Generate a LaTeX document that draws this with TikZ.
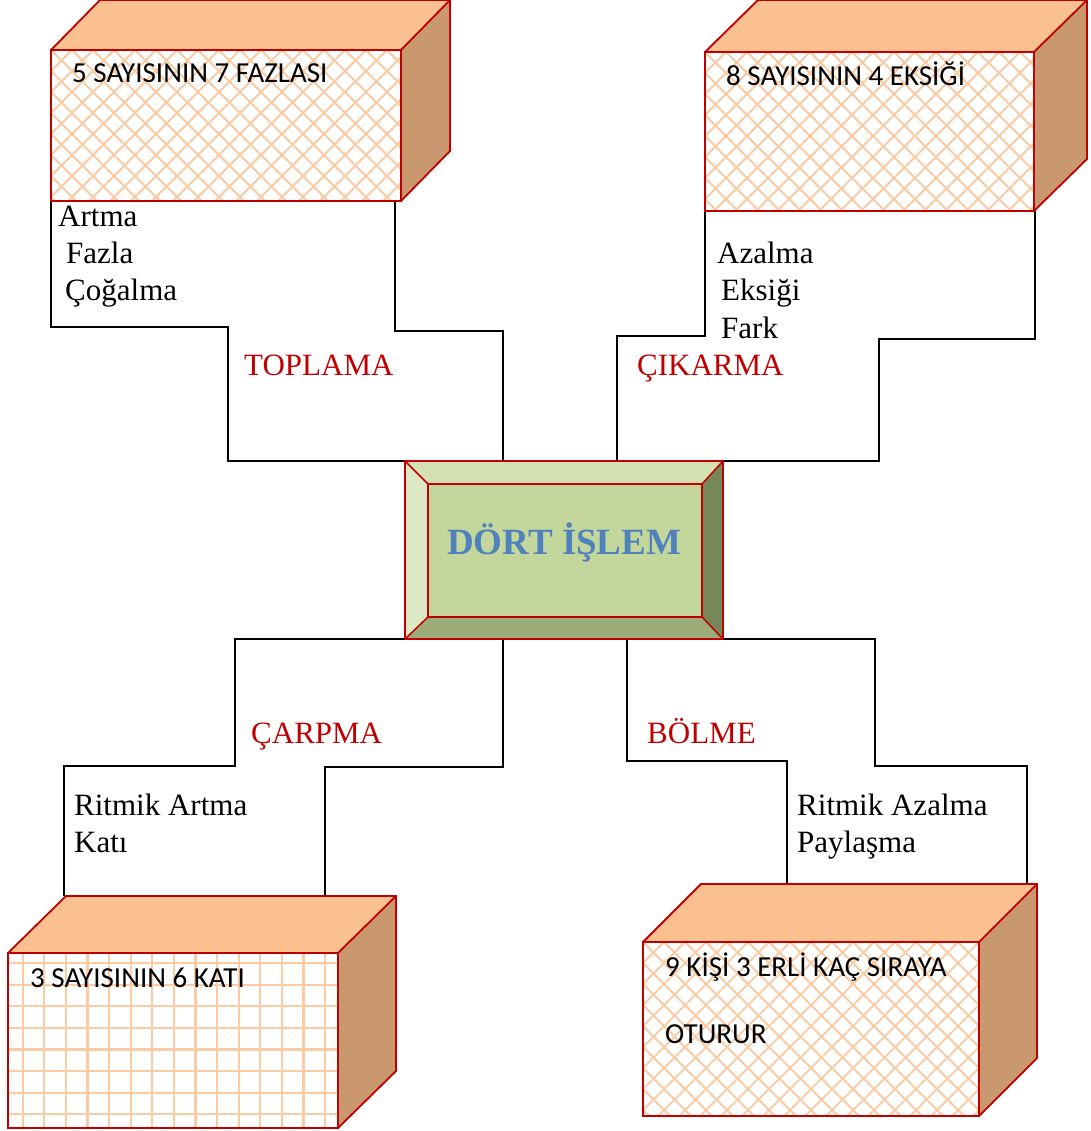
\documentclass[tikz,border=0pt]{standalone}
\usepackage{fontspec}
\setmainfont{Liberation Serif}
\newfontfamily\calib{Carlito}
\usetikzlibrary{calc}
\definecolor{dred}{HTML}{C00000}
\definecolor{peach}{HTML}{FAC090}
\definecolor{sidec}{HTML}{C9986F}
\definecolor{hatchc}{HTML}{FBCBA3}
\definecolor{bvl}{HTML}{DDE8C6}
\definecolor{bvt}{HTML}{D2E0B3}
\definecolor{bvc}{HTML}{C3D69B}
\definecolor{bvb}{HTML}{9BAB7A}
\definecolor{bvr}{HTML}{76875A}
\definecolor{titleblue}{HTML}{4F81BD}
\newcommand\mycube[2]{%
  \fill[peach] (#1.north west) -- ($(#1.north west)+(#2)$) -- ($(#1.north east)+(#2)$) -- (#1.north east) -- cycle;
  \fill[sidec] (#1.north east) -- ($(#1.north east)+(#2)$) -- ($(#1.south east)+(#2)$) -- (#1.south east) -- cycle;
  \draw[dred, line width=1.8pt, line join=miter] (#1.north west) -- ($(#1.north west)+(#2)$) -- ($(#1.north east)+(#2)$) -- ($(#1.south east)+(#2)$) -- (#1.south east);
  \draw[dred, line width=1.8pt] (#1.north east) -- ($(#1.north east)+(#2)$);
}
\begin{document}
\begin{tikzpicture}[x=1pt,y=-1pt,
  face/.style={draw=dred, line width=1.8pt, fill=white, inner sep=0pt, outer sep=0pt, anchor=north west},
  lattice/.style={path picture={
     \foreach \k in {-10,...,27}{
       \draw[hatchc, line width=1.8pt] ($(path picture bounding box.north west)+(\k*21,0)+(-260,-260)$) -- ++(520,520);
       \draw[hatchc, line width=1.8pt] ($(path picture bounding box.north west)+(\k*21,0)+(260,-260)$) -- ++(-520,520);
     }}},
  gridfill/.style={path picture={
     \foreach \k in {0,...,16}{
       \draw[hatchc, line width=2.2pt] ($(path picture bounding box.north west)+(14.7+\k*21.6,-5)$) -- ++(0,200);
     }
     \foreach \k in {0,...,8}{
       \draw[hatchc, line width=2.2pt] ($(path picture bounding box.north west)+(-5,10+\k*21.6)$) -- ++(350,0);
     }}},
  conn/.style={black, line width=1.6pt, line join=miter},
  lbl/.style={anchor=base west, inner sep=0pt, font=\fontsize{31}{37}\selectfont},
  oplbl/.style={lbl, text=dred},
  boxtxt/.style={anchor=base west, inner sep=0pt, font=\calib\fontsize{29}{35}\selectfont}
]
\useasboundingbox (0,0) rectangle (1090,1131);

% central bevel box
\node[inner sep=0pt, outer sep=0pt, minimum width=318, minimum height=178] (cen) at (564,550) {};
\node[inner sep=0pt, outer sep=0pt, minimum width=274, minimum height=133] (cin) at (565,550.5) {};

% connector bend points
\coordinate (a1) at (228,327); \coordinate (a2) at (503,331); \coordinate (a3) at (395,331);
\coordinate (b1) at (617,336); \coordinate (b2) at (879,339); \coordinate (b3) at (1035,339);
\coordinate (c1) at (235,766); \coordinate (c2) at (503,767); \coordinate (c3) at (325,767);
\coordinate (d1) at (627,761); \coordinate (d2) at (875,766); \coordinate (d3) at (1027,766);

% front faces
\node[face, lattice, minimum width=350, minimum height=151] (tl) at (51,50) {};
\node[face, lattice, minimum width=329, minimum height=159] (tr) at (705,52) {};
\node[face, gridfill, minimum width=330, minimum height=175] (bl) at (8,953) {};
\node[face, lattice, minimum width=336, minimum height=174] (br) at (643,942) {};
\coordinate (blt) at ($(bl.north west)+(58,-57)$);
\coordinate (brt) at ($(br.north west)+(58,-58)$);

% connectors
\draw[conn] (tl.south west) |- (a1) |- (a2 |- cen.north) -- (a2) -- (a3) -- (a3 |- tl.south);
\draw[conn] (tr.south west) |- (b1) |- (b2 |- cen.north) -- (b2) -- (b3) -- (b3 |- tr.south);
\draw[conn] (64,0 |- blt) |- (c1) |- (c2 |- cen.south) -- (c2) -- (c3) -- (c3 |- blt);
\draw[conn] (787,0 |- brt) |- (d1) |- (d2 |- cen.south) -- (d2) -- (d3) -- (d3 |- brt);

% cubes
\mycube{tl}{49,-50}
\mycube{tr}{53,-52}
\mycube{bl}{58,-57}
\mycube{br}{58,-58}
\draw[dred, line width=1.8pt] (tl.north west) rectangle (tl.south east);
\draw[dred, line width=1.8pt] (tr.north west) rectangle (tr.south east);
\draw[dred, line width=1.8pt] (bl.north west) rectangle (bl.south east);
\draw[dred, line width=1.8pt] (br.north west) rectangle (br.south east);

% bevel faces
\fill[bvt] (cen.north west) -- (cen.north east) -- (cin.north east) -- (cin.north west) -- cycle;
\fill[bvl] (cen.north west) -- (cin.north west) -- (cin.south west) -- (cen.south west) -- cycle;
\fill[bvr] (cen.north east) -- (cen.south east) -- (cin.south east) -- (cin.north east) -- cycle;
\fill[bvb] (cen.south west) -- (cin.south west) -- (cin.south east) -- (cen.south east) -- cycle;
\fill[bvc] (cin.north west) rectangle (cin.south east);
\draw[dred, line width=1.5pt] (cen.north west) rectangle (cen.south east);
\draw[dred, line width=1.5pt] (cin.north west) rectangle (cin.south east);
\draw[dred, line width=1.5pt] (cen.north west) -- (cin.north west) (cen.north east) -- (cin.north east)
  (cen.south west) -- (cin.south west) (cen.south east) -- (cin.south east);
\node[anchor=base west, inner sep=0pt, text=titleblue, font=\bfseries\fontsize{37}{44}\selectfont] (title) at (447,554) {DÖRT İŞLEM};

% box texts
\node[boxtxt] (tltxt) at (72,83) {5 SAYISININ 7 FAZLASI};
\node[boxtxt] (trtxt) at (726,86) {8 SAYISININ 4 EKSİĞİ};
\node[boxtxt] (bltxt) at (30,987) {3 SAYISININ 6 KATI};
\node[boxtxt] (brtxt1) at (665,976) {9 KİŞİ 3 ERLİ KAÇ SIRAYA};
\node[boxtxt] (brtxt2) at (665,1043) {OTURUR};

% labels
\node[lbl] (l1) at (58,227) {Artma};
\node[lbl] (l2) at (66,264) {Fazla};
\node[lbl] (l3) at (65,301) {Çoğalma};
\node[oplbl] (op1) at (244,375) {TOPLAMA};
\node[lbl] (r1) at (717,264) {Azalma};
\node[lbl] (r2) at (721,301) {Eksiği};
\node[lbl] (r3) at (721,338) {Fark};
\node[oplbl] (op2) at (637,375) {ÇIKARMA};
\node[oplbl] (op3) at (251,743) {ÇARPMA};
\node[lbl] (m1) at (74,815) {Ritmik Artma};
\node[lbl] (m2) at (74,852) {Katı};
\node[oplbl] (op4) at (647,743) {BÖLME};
\node[lbl] (d1t) at (797,815) {Ritmik Azalma};
\node[lbl] (d2t) at (797,852) {Paylaşma};
\end{tikzpicture}
\end{document}
